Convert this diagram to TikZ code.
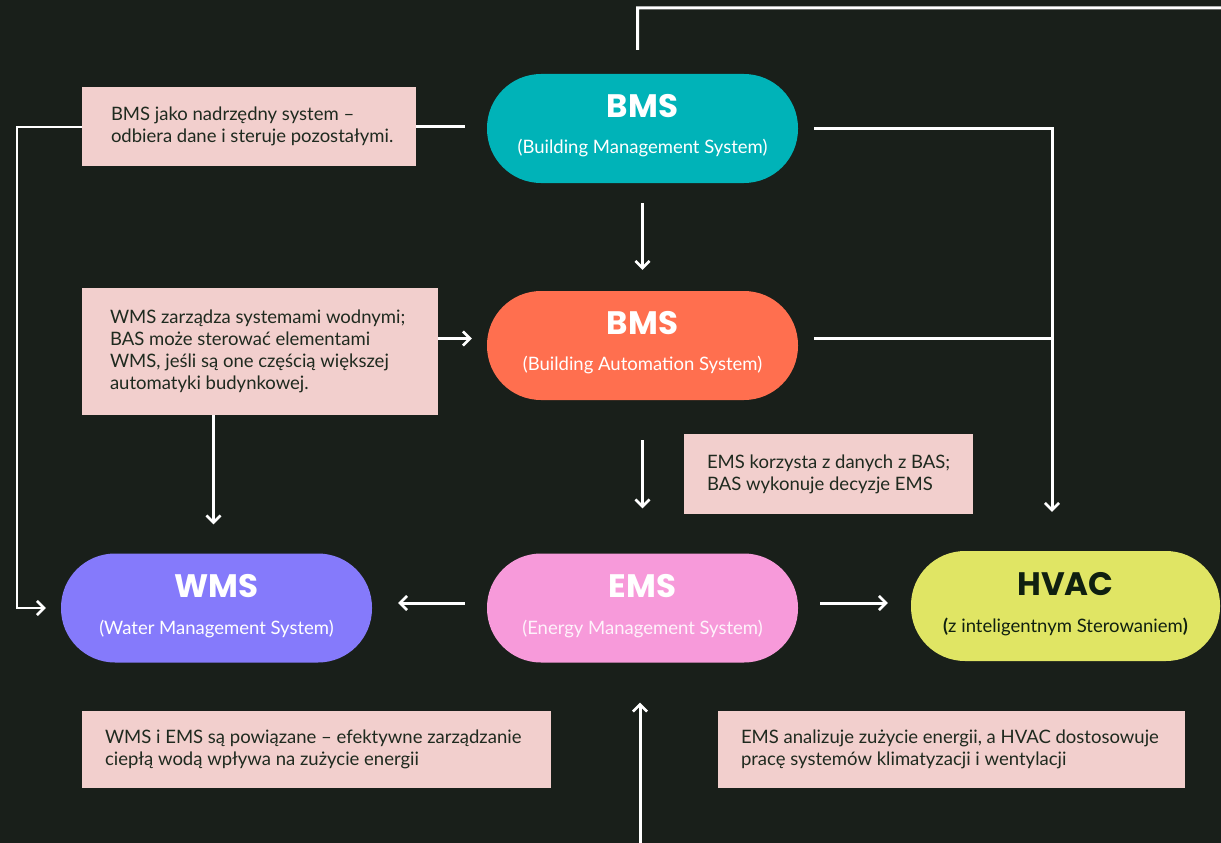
\documentclass[tikz,border=0pt]{standalone}
\usepackage{fontspec}
\setmainfont{Lato}
\newfontfamily\headfont{Poppins}
\usetikzlibrary{arrows.meta}

\definecolor{bg}{HTML}{191F1A}
\definecolor{teal}{HTML}{00B3B8}
\definecolor{coral}{HTML}{FF6F4F}
\definecolor{violet}{HTML}{857AFB}
\definecolor{rose}{HTML}{F79ADA}
\definecolor{lime}{HTML}{E0E564}
\definecolor{note}{HTML}{F2CFCD}
\definecolor{ink}{HTML}{1F2A1F}
\definecolor{deep}{HTML}{102010}

\tikzset{
  pill/.style={rounded corners=54pt, minimum width=311pt, minimum height=109pt, inner sep=0pt, draw=none},
  title/.style={anchor=base, inner sep=0pt, font=\headfont\bfseries\fontsize{32.5}{32.5}\selectfont, text=white},
  subtitle/.style={anchor=base, inner sep=0pt, font=\fontsize{18.5}{22}\selectfont, text=white},
  notebox/.style={fill=note, draw=none, inner sep=0pt},
  notetext/.style={anchor=west, inner sep=0pt, align=left, text=ink, font=\fontsize{18.5}{22}\selectfont},
  wire/.style={draw=white, line width=3pt},
  arrow/.style={wire, -{Straight Barb[length=7pt, width=14pt, line width=2.6pt]}},
}

\begin{document}
\begin{tikzpicture}[x=1pt, y=-1pt]
  % canvas
  \fill[bg] (0,0) rectangle (1221,843);
  \useasboundingbox (0,0) rectangle (1221,843);

  % system pills
  \node[pill, fill=teal]   (bms)  at (642.5,128.5) {};
  \node[pill, fill=coral]  (bas)  at (642.5,345.5) {};
  \node[pill, fill=violet] (wms)  at (216.5,608)   {};
  \node[pill, fill=rose]   (ems)  at (642.5,608)   {};
  \node[pill, fill=lime, minimum width=309pt, minimum height=110pt] (hvac) at (1065.5,606) {};

  \node[title]    (bmsT)  at ([yshift=11pt]bms.center)  {BMS};
  \node[subtitle] (bmsS)  at ([yshift=-25pt]bms.center) {(Building Management System)};
  \node[title]    (basT)  at ([yshift=11pt]bas.center)  {BMS};
  \node[subtitle] (basS)  at ([yshift=-25pt]bas.center) {(Building Automation System)};
  \node[title]    (wmsT)  at ([yshift=11pt]wms.center)  {WMS};
  \node[subtitle] (wmsS)  at ([yshift=-26pt]wms.center) {(Water Management System)};
  \node[title]    (emsT)  at ([yshift=11pt]ems.center)  {EMS};
  \node[subtitle, text=white!88!rose] (emsS) at ([yshift=-26pt]ems.center) {(Energy Management System)};
  \node[title, text=deep]    (hvacT) at ([yshift=11pt]hvac.center)  {HVAC};
  \node[subtitle, text=deep] (hvacS) at ([yshift=-26pt]hvac.center) {\textbf{(}z inteligentnym Sterowaniem\textbf{)}};

  % notes
  \node[notebox, minimum width=334pt, minimum height=79pt]  (n1) at (249,126.5) {};
  \node[notetext] (n1t) at ([xshift=29pt]n1.west) {BMS jako nadrzędny system –\\odbiera dane i steruje pozostałymi.};
  \node[notebox, minimum width=356pt, minimum height=127pt] (n2) at (260,351.5) {};
  \node[notetext] (n2t) at ([xshift=28pt]n2.west) {WMS zarządza systemami wodnymi;\\BAS może sterować elementami\\WMS, jeśli są one częścią większej\\automatyki budynkowej.};
  \node[notebox, minimum width=289pt, minimum height=80pt]  (n3) at (828.5,474) {};
  \node[notetext] (n3t) at ([xshift=23pt]n3.west) {EMS korzysta z danych z BAS;\\BAS wykonuje decyzje EMS};
  \node[notebox, minimum width=469pt, minimum height=77pt]  (n4) at (316.5,749.5) {};
  \node[notetext] (n4t) at ([xshift=23pt]n4.west) {WMS i EMS są powiązane – efektywne zarządzanie\\ciepłą wodą wpływa na zużycie energii};
  \node[notebox, minimum width=467pt, minimum height=77pt]  (n5) at (951.5,749.5) {};
  \node[notetext] (n5t) at ([xshift=23pt]n5.west) {EMS analizuje zużycie energii, a HVAC dostosowuje\\pracę systemów klimatyzacji i wentylacji};

  % routing points
  \coordinate (topR)  at (1221,8);
  \coordinate (lrail) at (17,0);
  \coordinate (rrail) at (1052,0);
  \coordinate (bot)   at (640,843);
  \coordinate (basR)  at ([yshift=7pt]bas.east);
  \coordinate (wmsIn) at ([xshift=-3pt]wms.north);

  % connectors
  \draw[wire] (bms.north) ++(-5,-24) -- ++(0,-42) -- (topR);
  \draw[wire, shorten >=22pt] (n1.east) -- (bms.west |- n1.east);
  \draw[arrow, line width=2pt, shorten >=15pt] (n1.west) -- (lrail |- n1.west) |- (wms.west);
  \draw[arrow, shorten <=16pt, shorten >=39pt] (bms.east) -- (rrail |- bms.east) -- (rrail |- hvac.north);
  \draw[wire, shorten <=16pt] (basR) -- (rrail |- basR);
  \draw[arrow, shorten <=20pt, shorten >=21pt] (bms) -- (bas);
  \draw[arrow, shorten >=15pt] (n2.east |- basR) -- (bas.west |- basR);
  \draw[arrow, shorten >=29pt] (n2.south -| wmsIn) -- (wmsIn);
  \draw[arrow, shorten <=40pt, shorten >=45pt] (bas) -- (ems);
  \draw[arrow, shorten <=22pt, shorten >=26pt] ([yshift=5pt]ems.west) -- ([yshift=5pt]wms.east);
  \draw[arrow, shorten <=22pt, shorten >=23pt] ([yshift=5pt]ems.east) -- ([yshift=5pt]hvac.west |- ems.east);
  \draw[arrow, shorten >=40pt] (bot) -- (bot |- ems.south);
\end{tikzpicture}
\end{document}
